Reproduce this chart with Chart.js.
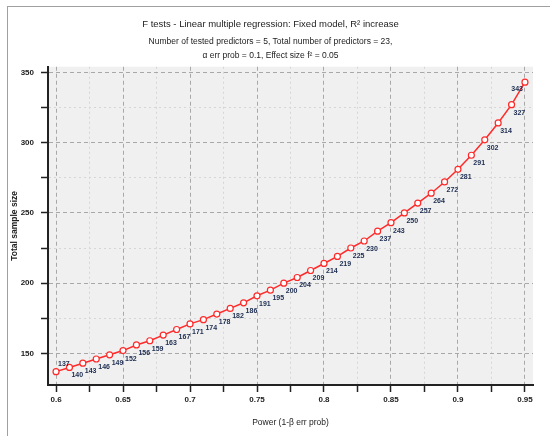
<!DOCTYPE html>
<html>
<head>
<meta charset="utf-8">
<script src="https://cdn.jsdelivr.net/npm/chart.js@4.4.0/dist/chart.umd.min.js"></script>
<style>
html, body { margin: 0; padding: 0; background: #fff; }
#wrap { position: relative; width: 550px; height: 436px; overflow: hidden; }
#frame { position: absolute; left: 7px; top: 6px; width: 600px; height: 500px; border-left: 1px solid #a0a0a0; border-top: 1px solid #a0a0a0; }
#chart { position: absolute; left: 0; top: 0; }
</style>
</head>
<body>
<div id="wrap">
  <div id="frame"></div>
  <canvas id="chart" width="550" height="436"></canvas>
</div>
<script>
// power (1-β err prob)
const power = [0.60, 0.61, 0.62, 0.63, 0.64, 0.65, 0.66, 0.67, 0.68, 0.69,
               0.70, 0.71, 0.72, 0.73, 0.74, 0.75, 0.76, 0.77, 0.78, 0.79,
               0.80, 0.81, 0.82, 0.83, 0.84, 0.85, 0.86, 0.87, 0.88, 0.89,
               0.90, 0.91, 0.92, 0.93, 0.94, 0.95];
// total sample size
const sampleSize = [137, 140, 143, 146, 149, 152, 156, 159, 163, 167,
                    171, 174, 178, 182, 186, 191, 195, 200, 204, 209,
                    214, 219, 225, 230, 237, 243, 250, 257, 264, 272,
                    281, 291, 302, 314, 327, 343];
// axis ticks
const xTicks = [0.6, 0.625, 0.65, 0.675, 0.7, 0.725, 0.75, 0.775, 0.8, 0.825, 0.85, 0.875, 0.9, 0.925, 0.95];
const yTicks = [150, 175, 200, 225, 250, 275, 300, 325, 350];

const FONT = '"Liberation Sans", Arial, sans-serif';

function isMajorX(v) { return Math.round(v * 1000) % 50 === 0; }
function isMajorY(v) { return Math.round(v) % 50 === 0; }

// 플롯 배경
const plotBg = {
    id: 'plotBg',
    beforeDraw(chart) {
        const a = chart.chartArea;
        const ctx = chart.ctx;
        ctx.save();
        ctx.fillStyle = '#f0f0f0';
        ctx.fillRect(a.left, a.top, a.right - a.left, a.bottom - a.top);
        ctx.restore();
    }
};

// 점 옆 숫자
const pointLabels = {
    id: 'pointLabels',
    afterDatasetsDraw(chart) {
        const ctx = chart.ctx;
        const meta = chart.getDatasetMeta(0);
        const last = meta.data.length - 1;
        ctx.save();
        ctx.font = 'bold 7px ' + FONT;
        ctx.fillStyle = '#1c2c50';
        ctx.textBaseline = 'middle';
        meta.data.forEach((pt, i) => {
            let dx = 2, dy = 8, align = 'left';
            if (i === 0) { dy = -8; }
            if (i === last) { align = 'right'; dx = -2; dy = 7; }
            ctx.textAlign = align;
            ctx.fillText(String(sampleSize[i]), pt.x + dx, pt.y + dy);
        });
        ctx.restore();
    }
};

new Chart(document.getElementById('chart').getContext('2d'), {
    type: 'line',
    data: {
        datasets: [{
            data: power.map((p, i) => ({ x: p, y: sampleSize[i] })),
            borderColor: '#ff2a2a',
            borderWidth: 1.5,
            backgroundColor: '#ffffff',
            pointBackgroundColor: '#ffffff',
            pointBorderColor: '#ff2a2a',
            pointBorderWidth: 1.2,
            pointRadius: 3,
            tension: 0,
            fill: false
        }]
    },
    options: {
        responsive: false,
        animation: false,
        devicePixelRatio: 1,
        layout: { padding: { left: 8, right: 17, top: 19, bottom: 8 } },
        plugins: {
            legend: { display: false },
            tooltip: { enabled: false },
            title: {
                display: true,
                text: 'F tests - Linear multiple regression: Fixed model, R² increase',
                color: '#222',
                font: { family: FONT, size: 9.5, weight: 'normal' },
                padding: { top: 0, bottom: 5 }
            },
            subtitle: {
                display: true,
                text: ['Number of tested predictors = 5, Total number of predictors = 23,',
                       'α err prob = 0.1, Effect size f² = 0.05'],
                color: '#222',
                font: { family: FONT, size: 8.5, lineHeight: 1.55 },
                padding: { top: 0, bottom: 5 }
            }
        },
        scales: {
            x: {
                type: 'linear',
                min: 0.594,
                max: 0.956,
                afterBuildTicks: s => { s.ticks = xTicks.map(v => ({ value: v })); },
                afterFit: s => { s.height = 43; },
                ticks: {
                    callback: v => isMajorX(v) ? String(Math.round(v * 100) / 100) : '',
                    color: '#222',
                    font: { family: FONT, size: 8, weight: 'bold' },
                    padding: 3,
                    maxRotation: 0,
                    autoSkip: false
                },
                grid: {
                    color: c => c.tick && isMajorX(c.tick.value) ? '#a8a8a8' : '#d6d6d6',
                    lineWidth: 1,
                    tickLength: 7,
                    tickColor: '#222',
                    tickWidth: 1.5
                },
                border: {
                    color: '#222',
                    width: 2,
                    dash: c => c.tick && isMajorX(c.tick.value) ? [4, 3] : [2, 3]
                },
                title: {
                    display: true,
                    text: 'Power (1-β err prob)',
                    color: '#222',
                    font: { family: FONT, size: 8.5 },
                    padding: { top: 4, bottom: 0 }
                }
            },
            y: {
                type: 'linear',
                min: 127.5,
                max: 354,
                afterBuildTicks: s => { s.ticks = yTicks.map(v => ({ value: v })); },
                afterFit: s => { s.width = 40; },
                ticks: {
                    callback: v => isMajorY(v) ? String(v) : '',
                    color: '#222',
                    font: { family: FONT, size: 8, weight: 'bold' },
                    padding: 7,
                    autoSkip: false
                },
                grid: {
                    color: c => c.tick && isMajorY(c.tick.value) ? '#a8a8a8' : '#d6d6d6',
                    lineWidth: 1,
                    tickLength: 7,
                    tickColor: '#222',
                    tickWidth: 1.5
                },
                border: {
                    color: '#222',
                    width: 2,
                    dash: c => c.tick && isMajorY(c.tick.value) ? [4, 3] : [2, 3]
                },
                title: {
                    display: true,
                    text: 'Total sample size',
                    color: '#222',
                    font: { family: FONT, size: 8.5, weight: 'bold' },
                    padding: { top: 2, bottom: 0 }
                }
            }
        }
    },
    plugins: [plotBg, pointLabels]
});
</script>
</body>
</html>
